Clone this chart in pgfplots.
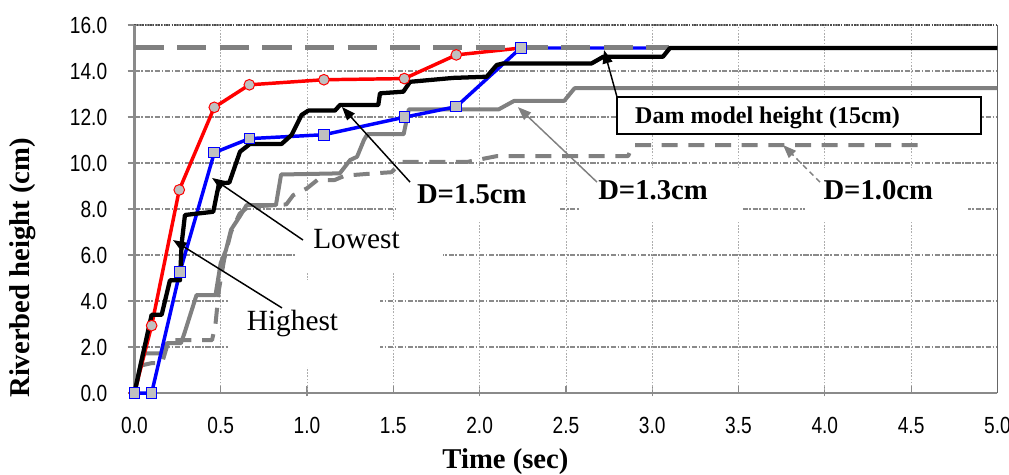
\documentclass[border=0pt]{standalone}
\usepackage{fontspec}
\setmainfont{Liberation Serif}
\newfontfamily\axisnumfont[FakeStretch=0.82]{Liberation Sans}
\usepackage{pgfplots}
\pgfplotsset{compat=1.18}
\usetikzlibrary{arrows.meta}

\definecolor{curvegray}{HTML}{808080}
\definecolor{markfill}{HTML}{C0C0C0}
\definecolor{gridgray}{HTML}{8A8A8A}

\begin{document}
\begin{tikzpicture}
  \begin{axis}[
      width=647.25pt, height=276pt, scale only axis,
      xmin=0, xmax=5, ymin=0, ymax=16,
      xtick={0,0.5,1,1.5,2,2.5,3,3.5,4,4.5,5},
      ytick={0,2,4,6,8,10,12,14,16},
      xtick pos=bottom, ytick pos=left,
      xtick align=inside, ytick align=outside,
      major tick length=5pt,
      axis line style={draw=none},
      clip=false,
      xmajorgrids, ymajorgrids,
      x grid style={draw=gridgray!70, line width=0.6pt, dash pattern=on 1.2pt off 1.2pt},
      y grid style={draw=gridgray, line width=1pt, dash pattern=on 4pt off 1.2pt on 1.2pt off 1.2pt},
      extra x ticks={1,2,3,4}, extra x tick labels={},
      extra x tick style={grid style={draw=gridgray, line width=1.1pt, dash pattern=on 3pt off 1pt on 1pt off 1pt}, tick align=center},
      tick style={draw=gridgray, line width=0.9pt},
      tick label style={font=\axisnumfont\fontsize{17.5}{20}\selectfont, inner sep=0pt},
      /pgf/number format/fixed, /pgf/number format/fixed zerofill,
      /pgf/number format/precision=1, /pgf/number format/assume math mode=true,
      xticklabel style={anchor=base, yshift=-30.2pt},
      yticklabel style={anchor=east, xshift=-15.2pt},
      xlabel={Time (sec)}, ylabel={Riverbed height (cm)},
      xlabel style={at={(rel axis cs:0.43,-0.2038)}, anchor=base, font=\bfseries\fontsize{21.5}{24}\selectfont},
      ylabel style={at={(rel axis cs:-0.1298,0.34)}, anchor=center, font=\bfseries\fontsize{21.5}{24}\selectfont},
    ]
    % white boxes behind the annotations
    \fill[white] (axis cs:0.543,1.13) rectangle (axis cs:1.423,4.91);
    \fill[white] (axis cs:0.929,5.22) rectangle (axis cs:1.788,7.52);
    \fill[white] (axis cs:1.527,7.52) rectangle (axis cs:2.466,9.78);
    \fill[white] (axis cs:2.581,7.52) rectangle (axis cs:3.526,9.78);
    \fill[white] (axis cs:3.885,7.52) rectangle (axis cs:4.829,9.78);

    % frame
    \draw[black!70, line width=0.9pt, dash pattern=on 1pt off 1pt] (rel axis cs:0,1) -- (rel axis cs:1,1);
    \draw[black!60, line width=1pt] (rel axis cs:1,0) -- (rel axis cs:1,1);
    \draw[gridgray, line width=2.2pt] (rel axis cs:0,1) -- (rel axis cs:0,0) -- (rel axis cs:1,0);

    % D=1.0cm
    \addplot[curvegray, line width=3pt, dash pattern=on 12pt off 8pt, line join=round] coordinates {
      (0,0)(0.04,1.2)(0.10,1.3)(0.16,1.3)(0.20,2.3)(0.45,2.3)(0.47,3.0)(0.49,4.5)
      (0.52,5.8)(0.56,7.0)(0.61,7.8)(0.66,8.1)(0.88,8.2)(0.92,8.6)(1.0,8.9)(1.06,9.26)
      (1.16,9.26)(1.22,9.45)(1.39,9.55)(1.49,9.6)(1.55,10.05)(1.93,10.05)(2.1,10.3)
      (2.86,10.3)(2.89,10.78)(4.58,10.78)};
    % D=1.3cm
    \addplot[curvegray, line width=3pt, line join=round] coordinates {
      (0,0)(0.05,1.72)(0.16,1.72)(0.19,2.17)(0.27,2.17)(0.29,2.6)(0.36,4.26)(0.47,4.26)
      (0.50,5.65)(0.53,6.2)(0.56,7.1)(0.61,7.67)(0.65,8.17)(0.82,8.17)(0.85,9.5)(1.19,9.55)
      (1.25,10.13)(1.29,10.27)(1.33,11.0)(1.35,11.25)(1.56,11.25)(1.59,12.33)(2.11,12.33)
      (2.2,12.7)(2.49,12.7)(2.55,13.25)(5.0,13.25)};
    % Highest
    \addplot[red, line width=2.6pt, mark=*, mark size=4pt,
      mark options={fill=markfill, draw=red, line width=0.75pt}] coordinates {
      (0,0)(0.100,2.93)(0.260,8.83)(0.463,12.42)(0.666,13.4)(1.098,13.62)(1.564,13.67)(1.865,14.7)(2.24,15.0)};
    % Lowest
    \addplot[blue, line width=2.6pt, mark=square*, mark size=4pt, mark indices={1,2,3,4,5,6,7,8,9},
      mark options={fill=markfill, draw=blue, line width=0.75pt}] coordinates {
      (0,0)(0.10,0)(0.264,5.27)(0.463,10.45)(0.666,11.06)(1.098,11.23)(1.564,11.99)(1.865,12.45)(2.238,15.0)(3.09,15.0)};
    % dam model height
    \addplot[curvegray, line width=3.75pt, dash pattern=on 22pt off 10pt] coordinates {(0,15)(3.1,15)};
    % D=1.5cm
    \addplot[black, line width=3.2pt, line join=round] coordinates {
      (0,0)(0.100,3.4)(0.158,3.4)(0.206,4.9)(0.264,4.9)(0.274,6.5)(0.293,7.74)(0.457,7.88)
      (0.49,9.1)(0.55,9.15)(0.612,10.49)(0.670,10.83)(0.853,10.83)(0.911,11.22)(0.969,12.09)
      (1.008,12.28)(1.162,12.28)(1.191,12.52)(1.413,12.52)(1.423,13.03)(1.558,13.1)(1.597,13.53)
      (1.848,13.7)(2.041,13.75)(2.099,14.26)(2.137,14.33)(2.649,14.33)(2.717,14.62)(3.062,14.62)
      (3.103,15.0)(5.0,15.0)};

    % annotations
    \draw[black, line width=1pt, fill=white] (axis cs:2.796,11.26) rectangle (axis cs:4.904,12.87);
    \node[anchor=base west, inner sep=0pt, font=\bfseries\fontsize{18}{20}\selectfont] at (axis cs:2.90,11.72) {Dam model height (15cm)};
    \draw[black, line width=1.1pt, -{Triangle[length=10pt,width=7.5pt]}] (axis cs:2.796,12.87) -- (axis cs:2.721,14.91);
    \draw[black, line width=1.1pt, -{Triangle[length=10pt,width=7.5pt]}] (axis cs:0.977,6.65) -- (axis cs:0.450,9.35);
    \draw[black, line width=1.1pt, -{Triangle[length=10pt,width=7.5pt]}] (axis cs:0.855,3.70) -- (axis cs:0.224,6.65);
    \draw[black, line width=1.1pt, -{Triangle[length=10pt,width=7.5pt]}] (axis cs:1.597,9.17) -- (axis cs:1.203,12.43);
    \draw[curvegray, line width=1.1pt, -{Triangle[length=10pt,width=7.5pt]}] (axis cs:2.680,9.17) -- (axis cs:2.222,12.43);
    \draw[curvegray, line width=1.1pt, dash pattern=on 4pt off 3pt, -{Triangle[length=10pt,width=7.5pt]}] (axis cs:3.972,9.17) -- (axis cs:3.758,10.78);
    \node[anchor=base west, inner sep=0pt, font=\fontsize{22}{24}\selectfont] at (axis cs:1.035,6.30) {Lowest};
    \node[anchor=base west, inner sep=0pt, font=\fontsize{22}{24}\selectfont] at (axis cs:0.650,2.71) {Highest};
    \node[anchor=base west, inner sep=0pt, font=\bfseries\fontsize{21.5}{24}\selectfont] at (axis cs:1.636,8.22) {D=1.5cm};
    \node[anchor=base west, inner sep=0pt, font=\bfseries\fontsize{21.5}{24}\selectfont] at (axis cs:2.686,8.40) {D=1.3cm};
    \node[anchor=base west, inner sep=0pt, font=\bfseries\fontsize{21.5}{24}\selectfont] at (axis cs:3.991,8.40) {D=1.0cm};

    \coordinate (bbsw) at (rel axis cs:-0.1557,-0.2201);
    \coordinate (bbne) at (rel axis cs:1.0134,1.0679);
  \end{axis}
  \pgfresetboundingbox
  \useasboundingbox (bbsw) rectangle (bbne);
\end{tikzpicture}
\end{document}
